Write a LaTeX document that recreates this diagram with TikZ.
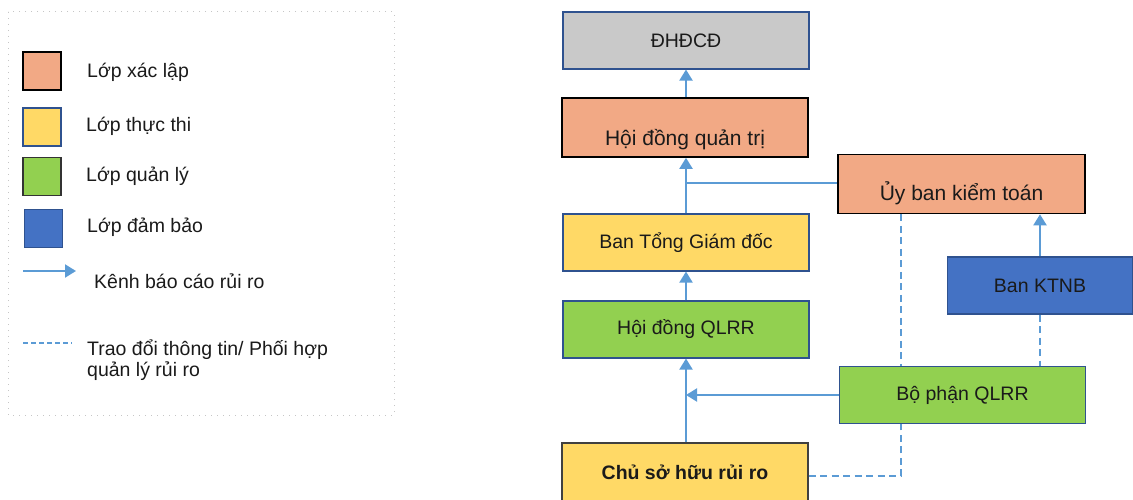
\documentclass[tikz,border=0pt]{standalone}
\usepackage{fontspec}
\setmainfont{Liberation Sans}
\usetikzlibrary{arrows.meta}
\definecolor{cOrange}{HTML}{F2A985}
\definecolor{cYellow}{HTML}{FFD966}
\definecolor{cGreen}{HTML}{92D050}
\definecolor{cBlue}{HTML}{4472C4}
\definecolor{cGray}{HTML}{C9C9C9}
\definecolor{cLine}{HTML}{5B9BD5}
\definecolor{cEdge}{HTML}{2F528F}
\definecolor{cText}{HTML}{1A1A1A}
\tikzset{
  box/.style={rectangle, draw=cEdge, line width=1.1pt, minimum width=246pt, minimum height=57pt, inner sep=0pt, text=cText, font=\fontsize{19.5}{21}\selectfont},
  blackbox/.style={box, draw=black, line width=1.6pt, font=\fontsize{21}{23}\selectfont},
  swatch/.style={rectangle, draw=cEdge, line width=1.2pt, minimum width=38pt, minimum height=38pt, inner sep=0pt},
  legtext/.style={anchor=west, text=cText, inner sep=0pt, font=\fontsize{19.5}{21}\selectfont, align=left},
  link/.style={draw=cLine, line width=2pt},
  linkarrow/.style={link, -{Triangle[length=11pt,width=13pt]}},
  dashlink/.style={draw=cLine, line width=2pt, dash pattern=on 7pt off 4.5pt},
}
\begin{document}
\begin{tikzpicture}[x=1pt,y=-1pt]
\useasboundingbox (0,0) rectangle (1133,500);
% legend
\draw[gray!45, line width=1pt, dash pattern=on 1pt off 5pt] (8,12) rectangle (394,415);
\node[swatch, fill=cOrange, draw=black, line width=1.6pt] (s1) at (42,71) {};
\node[swatch, fill=cYellow] (s2) at (42,127) {};
\node[swatch, fill=cGreen, draw=black!80] (s3) at (42,176.5) {};
\node[swatch, fill=cBlue] (s4) at (43.5,228.5) {};
\coordinate (la1) at (23,271);
\coordinate (la2) at (76,271);
\draw[linkarrow] (la1) -- (la2);
\coordinate (ld1) at (23,343);
\coordinate (ld2) at (72,343);
\draw[draw=cLine, line width=1.5pt, dash pattern=on 5pt off 3pt] (ld1) -- (ld2);
\node[legtext] (t1) at (87,72) {Lớp xác lập};
\node[legtext] (t2) at (86,126) {Lớp thực thi};
\node[legtext] (t3) at (86,176) {Lớp quản lý};
\node[legtext] (t4) at (87,227) {Lớp đảm bảo};
\node[legtext] (t5) at (94,281) {Kênh báo cáo rủi ro};
\node[legtext] (t6) at (87,360.5) {Trao đổi thông tin/ Phối hợp\\quản lý rủi ro};
% main nodes
\node[box, fill=cGray] (dhdcd) at (686,40.5) {ĐHĐCĐ};
\node[blackbox, fill=cOrange, minimum height=59pt] (hdqt) at (685,127.5) {\raisebox{-18.5pt}[0pt][0pt]{Hội đồng quản trị}};
\node[blackbox, fill=cOrange, minimum width=247pt, minimum height=59pt] (uyban) at (961.5,184) {\raisebox{-17pt}[0pt][0pt]{Ủy ban kiểm toán}};
\node[box, fill=cYellow] (tgd) at (686,242.5) {Ban Tổng Giám đốc};
\node[box, fill=cBlue, minimum width=185pt] (ktnb) at (1040,285.5) {Ban KTNB};
\node[box, fill=cGreen] (hdqlrr) at (686,329.5) {Hội đồng QLRR};
\node[box, fill=cGreen] (bophan) at (962.5,395) {Bộ phận QLRR};
\node[box, fill=cYellow, draw=black!75, minimum height=58pt] (chu) at (685,472) {\textbf{Chủ sở hữu rủi ro}};
% arrows
\draw[linkarrow] (hdqt.north -| dhdcd.south) -- (dhdcd.south);
\draw[linkarrow] (tgd.north) -- (tgd.north |- hdqt.south);
\draw[linkarrow] (hdqlrr.north) -- (tgd.south);
\draw[linkarrow] (chu.north -| hdqlrr.south) -- (hdqlrr.south);
\coordinate (j1) at (686,183);
\draw[link] (j1) -- (j1 -| uyban.west);
\coordinate (j2) at (hdqlrr.south |- bophan.west);
\draw[linkarrow] (bophan.west) -- (j2);
\draw[linkarrow] (ktnb.north) -- (ktnb.north |- uyban.south);
% dashed
\coordinate (dx) at (901,0);
\draw[dashlink] (uyban.south -| dx) -- (bophan.north -| dx);
\draw[dashlink] (ktnb.south) -- (ktnb.south |- bophan.north);
\draw[dashlink] ([yshift=-4pt]chu.east) -- ([yshift=-4pt]chu.east -| dx) -- (bophan.south -| dx);
\end{tikzpicture}
\end{document}
